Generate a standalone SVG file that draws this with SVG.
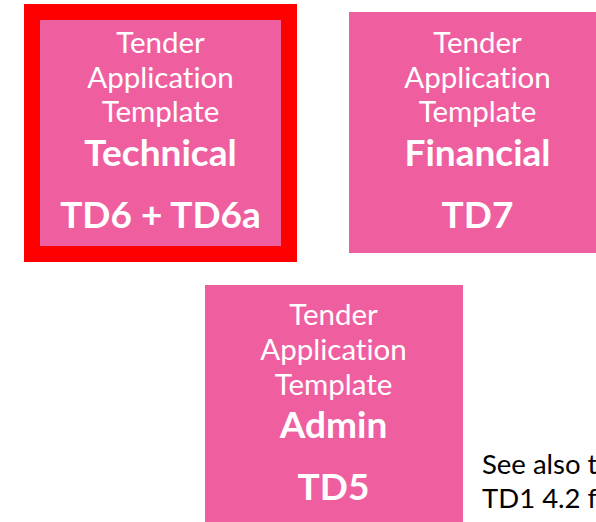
<svg xmlns="http://www.w3.org/2000/svg" width="596" height="522" viewBox="0 0 596 522">
<style>
.box{fill:#EF5FA0}
text{font-variant-ligatures:none}
.t{font-family:Lato,"Open Sans","Liberation Sans",sans-serif;fill:#fff;text-anchor:middle}
.n{font-size:29.5px}
.b{font-size:37px;font-weight:bold}
.s{font-family:Lato,"Open Sans","Liberation Sans",sans-serif;font-size:27.5px;fill:#000}
</style>
<rect width="596" height="522" fill="#fff"/>
<g id="technical">
<rect x="32" y="12" width="257" height="242" class="box" stroke="#FF0000" stroke-width="16"/>
<text class="t n" x="160.5" y="53">Tender</text>
<text class="t n" x="160.5" y="88">Application</text>
<text class="t n" x="160.5" y="122">Template</text>
<text class="t b" x="160.5" y="166">Technical</text>
<text class="t b" x="160.5" y="228">TD6 + TD6a</text>
</g>
<g id="financial">
<rect x="349" y="12" width="258" height="241" class="box"/>
<text class="t n" x="477.5" y="53">Tender</text>
<text class="t n" x="477.5" y="88">Application</text>
<text class="t n" x="477.5" y="122">Template</text>
<text class="t b" x="477.5" y="166">Financial</text>
<text class="t b" x="477.5" y="228">TD7</text>
</g>
<g id="admin">
<rect x="205" y="285" width="258" height="241" class="box"/>
<text class="t n" x="333.5" y="325">Tender</text>
<text class="t n" x="333.5" y="360">Application</text>
<text class="t n" x="333.5" y="395">Template</text>
<text class="t b" x="333.5" y="438">Admin</text>
<text class="t b" x="333.5" y="500">TD5</text>
</g>
<g id="note">
<text class="s" x="482" y="474">See also t</text>
<text class="s" x="482" y="508">TD1 4.2 f</text>
</g>
<g id="connectors"/>
</svg>
